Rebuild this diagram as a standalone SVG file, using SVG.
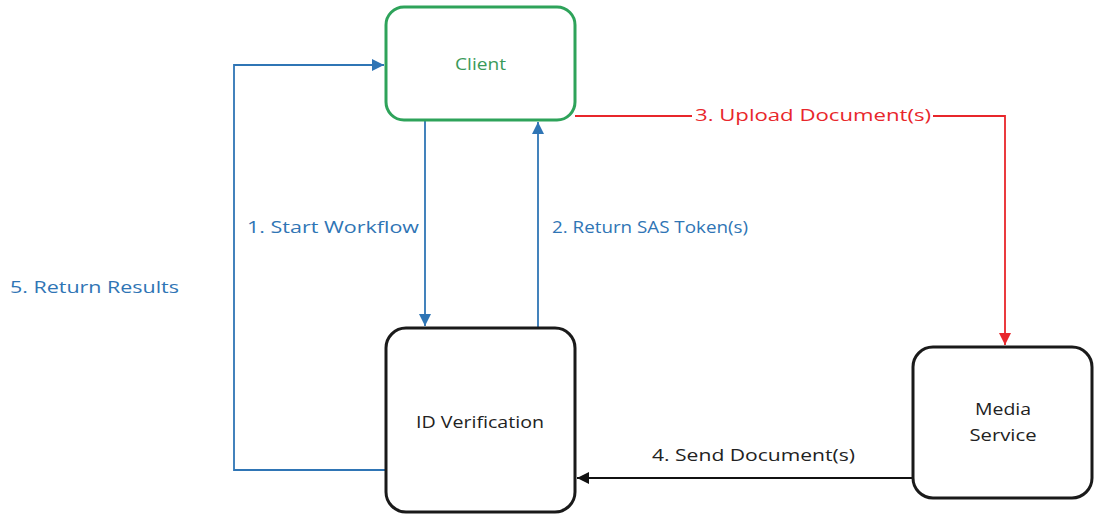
<svg xmlns="http://www.w3.org/2000/svg" width="1095" height="517" viewBox="0 0 1095 517">
<style>
.node{fill:#fff;stroke:#1a1a1a;stroke-width:3}
.lbl{font-family:"Open Sans","Noto Sans",sans-serif;font-size:16px}
.blue{fill:#2f75b5}
.c{stroke-width:1.8;fill:none}
</style>
<defs>
<marker id="ab" viewBox="0 0 12 12" refX="12" refY="6" markerWidth="12" markerHeight="12" markerUnits="userSpaceOnUse" orient="auto"><path d="M0,0L12,6L0,12z" fill="#2f75b5"/></marker>
<marker id="ar" viewBox="0 0 12 12" refX="12" refY="6" markerWidth="12" markerHeight="12" markerUnits="userSpaceOnUse" orient="auto"><path d="M0,0L12,6L0,12z" fill="#e8262b"/></marker>
<marker id="ak" viewBox="0 0 12 12" refX="12" refY="6" markerWidth="12" markerHeight="12" markerUnits="userSpaceOnUse" orient="auto"><path d="M0,0L12,6L0,12z" fill="#111"/></marker>
</defs>
<rect width="1095" height="517" fill="#fff"/>
<g id="connectors">
<path class="c" stroke="#2f75b5" d="M425,120V326" marker-end="url(#ab)"/>
<path class="c" stroke="#2f75b5" d="M538,328V122" marker-end="url(#ab)"/>
<path class="c" stroke="#2f75b5" d="M386,470H234V65H384" marker-end="url(#ab)"/>
<path class="c" stroke="#e8262b" d="M575,116H692M933,116H1005V345" marker-end="url(#ar)"/>
<path class="c" stroke="#111" d="M913,478H577" marker-end="url(#ak)"/>
<text class="lbl blue" x="247" y="233" textLength="172" lengthAdjust="spacingAndGlyphs">1. Start Workflow</text>
<text class="lbl blue" x="552" y="233" textLength="196" lengthAdjust="spacingAndGlyphs">2. Return SAS Token(s)</text>
<text class="lbl blue" x="10" y="293" textLength="169" lengthAdjust="spacingAndGlyphs">5. Return Results</text>
<text class="lbl" fill="#e8262b" x="695" y="121" textLength="236" lengthAdjust="spacingAndGlyphs">3. Upload Document(s)</text>
<text class="lbl" fill="#222" x="652" y="461" textLength="203" lengthAdjust="spacingAndGlyphs">4. Send Document(s)</text>
</g>
<g id="client">
<rect x="386" y="7" width="189" height="113" rx="18" fill="#fff" stroke="#2ea35a" stroke-width="3"/>
<text class="lbl" fill="#3a9a5a" font-size="15" x="455" y="70" textLength="51" lengthAdjust="spacingAndGlyphs">Client</text>
</g>
<g id="id-verification">
<rect class="node" x="386" y="328" width="189" height="184" rx="20"/>
<text class="lbl" fill="#222" x="416" y="428" textLength="128" lengthAdjust="spacingAndGlyphs">ID Verification</text>
</g>
<g id="media-service">
<rect class="node" x="913" y="347" width="179" height="151" rx="20"/>
<text class="lbl" fill="#222" x="1003" y="415" text-anchor="middle" textLength="56" lengthAdjust="spacingAndGlyphs">Media</text>
<text class="lbl" fill="#222" x="1003" y="441" text-anchor="middle" textLength="67" lengthAdjust="spacingAndGlyphs">Service</text>
</g>
</svg>
